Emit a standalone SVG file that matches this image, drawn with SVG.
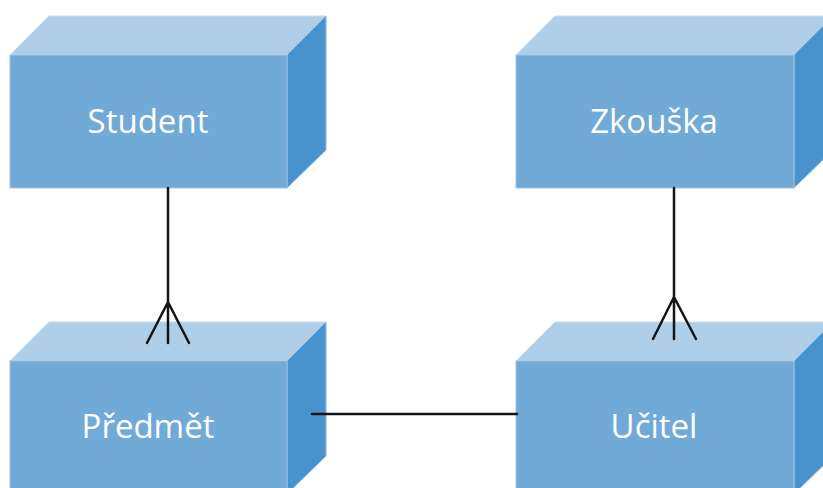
<svg xmlns="http://www.w3.org/2000/svg" width="823" height="488" viewBox="0 0 823 488">
  <defs>
    <style>
      .front { fill: #72aad7; stroke: #9cc3e3; stroke-width: 1; }
      .top { fill: #afcfe8; stroke: #c6ddef; stroke-width: 1; }
      .side { fill: #4893cd; stroke: #8fb9df; stroke-width: 1; }
      .label { font-family: "Open Sans", "Noto Sans", "DejaVu Sans", sans-serif; font-size: 33px; fill: #ffffff; text-anchor: middle; }
      .link { stroke: #151515; stroke-width: 2.5; fill: none; stroke-linecap: round; stroke-linejoin: round; }
    </style>
  </defs>
  <rect width="823" height="488" fill="#ffffff"/>

  <!-- Student -->
  <g id="student">
    <polygon class="top" points="10,55 49,16 326,16 287,55"/>
    <polygon class="side" points="287,55 326,16 326,150 287,188"/>
    <rect class="front" x="10" y="55" width="277" height="133"/>
    <text class="label" x="148" y="133">Student</text>
  </g>

  <!-- Zkouška -->
  <g id="zkouska">
    <polygon class="top" points="516,55 555,16 833,16 794,55"/>
    <polygon class="side" points="794,55 833,16 833,150 794,188"/>
    <rect class="front" x="516" y="55" width="278" height="133"/>
    <text class="label" x="654" y="133">Zkouška</text>
  </g>

  <!-- Předmět -->
  <g id="predmet">
    <polygon class="top" points="10,361 49,322 326,322 287,361"/>
    <polygon class="side" points="287,361 326,322 326,456 287,494"/>
    <rect class="front" x="10" y="361" width="277" height="133"/>
    <text class="label" x="148" y="438">Předmět</text>
  </g>

  <!-- Učitel -->
  <g id="ucitel">
    <polygon class="top" points="516,361 555,322 833,322 794,361"/>
    <polygon class="side" points="794,361 833,322 833,456 794,494"/>
    <rect class="front" x="516" y="361" width="278" height="133"/>
    <text class="label" x="654" y="438">Učitel</text>
  </g>

  <!-- Connectors -->
  <g id="connectors">
    <!-- Student to Předmět, many end -->
    <path class="link" d="M168,188 V343 M168,302 L147,343 M168,302 L189,343"/>
    <!-- Zkouška to Učitel, many end -->
    <path class="link" d="M674,188 V339 M674,297 L653,339 M674,297 L696,339"/>
    <!-- Předmět to Učitel -->
    <path class="link" d="M312,414 H517"/>
  </g>
</svg>
